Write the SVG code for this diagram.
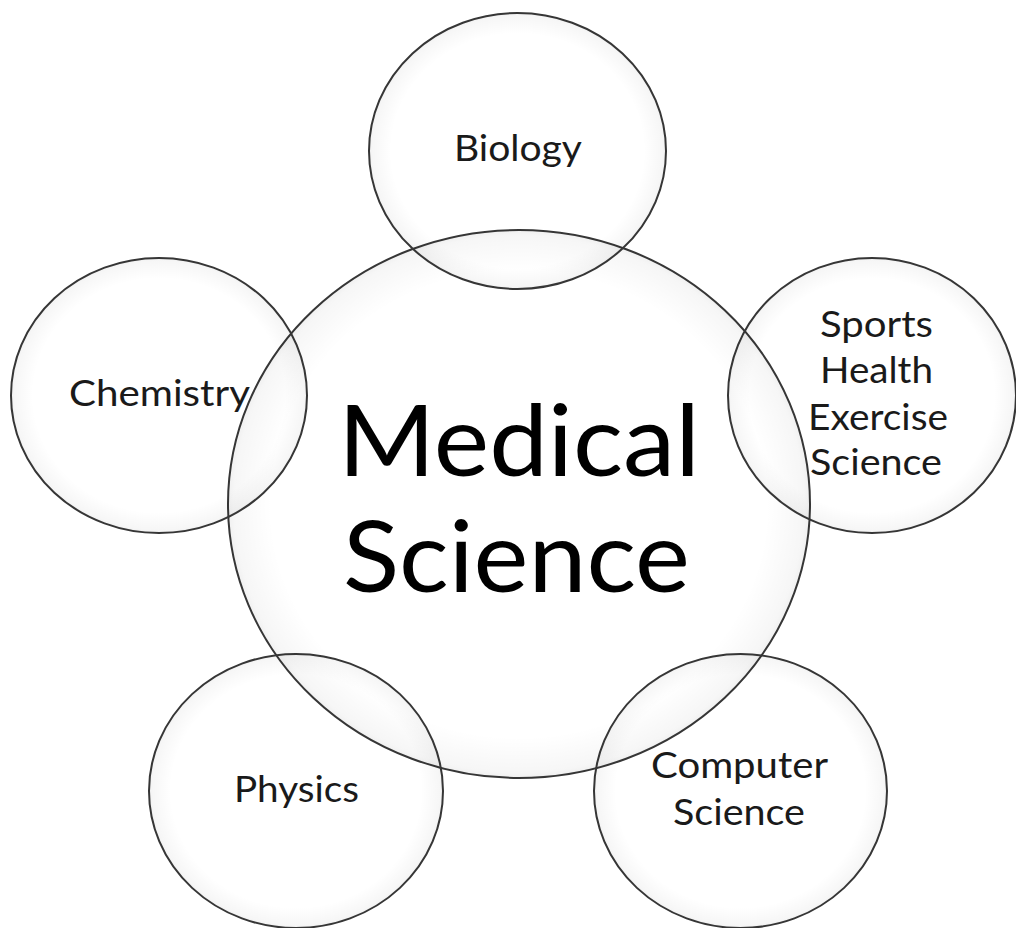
<svg xmlns="http://www.w3.org/2000/svg" width="1016" height="928" viewBox="0 0 1016 928">
<defs>
<radialGradient id="glow" cx="0.5" cy="0.5" r="0.5">
<stop offset="0.85" stop-color="#000" stop-opacity="0"/>
<stop offset="0.98" stop-color="#000" stop-opacity="0.035"/>
<stop offset="1" stop-color="#000" stop-opacity="0.06"/>
</radialGradient>
</defs>
<style>
.c{fill:url(#glow);stroke:#363636;stroke-width:2}
.t{font-family:Lato,"Open Sans",sans-serif;font-size:36px;fill:#1a1a1a;text-anchor:middle}
.big{font-family:Lato,"Open Sans",sans-serif;font-size:99px;fill:#000;text-anchor:middle}
</style>
<rect width="1016" height="928" fill="#fff"/>
<g id="connectors"></g>
<g id="medical">
<ellipse class="c" cx="519" cy="504" rx="291" ry="274"/>
<text class="big" x="519" y="476" textLength="362" lengthAdjust="spacingAndGlyphs">Medical</text>
<text class="big" x="516.5" y="592" textLength="347" lengthAdjust="spacingAndGlyphs">Science</text>
</g>
<g id="biology">
<ellipse class="c" cx="517.5" cy="151" rx="148.5" ry="138"/>
<text class="t" x="518" y="161" textLength="128" lengthAdjust="spacingAndGlyphs">Biology</text>
</g>
<g id="chemistry">
<ellipse class="c" cx="159" cy="395.5" rx="148" ry="137.5"/>
<text class="t" x="159.5" y="406" textLength="181" lengthAdjust="spacingAndGlyphs">Chemistry</text>
</g>
<g id="sports">
<ellipse class="c" cx="872" cy="395.5" rx="144" ry="137.5"/>
<text class="t" x="876.5" y="337" textLength="113" lengthAdjust="spacingAndGlyphs">Sports</text>
<text class="t" x="876.5" y="383" textLength="113" lengthAdjust="spacingAndGlyphs">Health</text>
<text class="t" x="878" y="430" textLength="140" lengthAdjust="spacingAndGlyphs">Exercise</text>
<text class="t" x="876" y="475" textLength="132" lengthAdjust="spacingAndGlyphs">Science</text>
</g>
<g id="physics">
<ellipse class="c" cx="296" cy="791" rx="147" ry="137"/>
<text class="t" x="296.5" y="802" textLength="125" lengthAdjust="spacingAndGlyphs">Physics</text>
</g>
<g id="computer">
<ellipse class="c" cx="740.5" cy="791" rx="146.5" ry="137"/>
<text class="t" x="739.5" y="778" textLength="177" lengthAdjust="spacingAndGlyphs">Computer</text>
<text class="t" x="739" y="825" textLength="132" lengthAdjust="spacingAndGlyphs">Science</text>
</g>
</svg>
